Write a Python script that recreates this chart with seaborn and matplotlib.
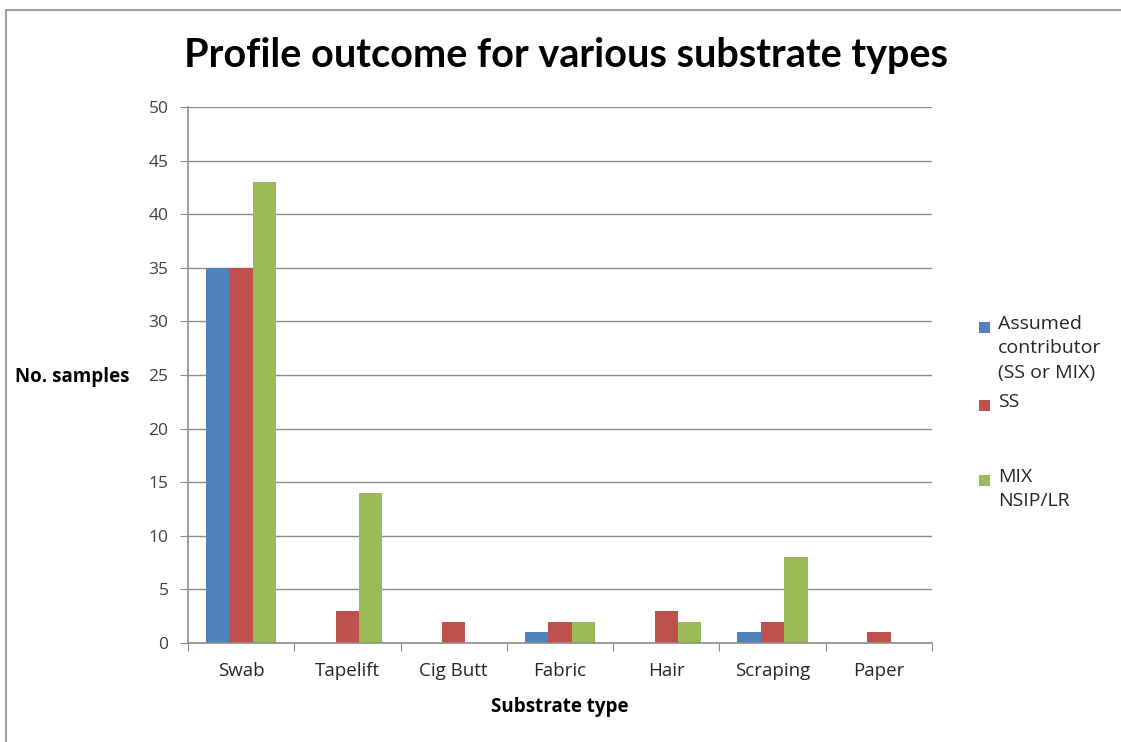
import pandas as pd
import matplotlib
matplotlib.use("Agg")
import matplotlib.pyplot as plt
from matplotlib.patches import Rectangle
from matplotlib.lines import Line2D
import seaborn as sns

categories = ["Swab", "Tapelift", "Cig Butt", "Fabric", "Hair", "Scraping", "Paper"]
series = ["Assumed\ncontributor\n(SS or MIX)", "SS", "MIX\nNSIP/LR"]
assumed = [35, 0, 0, 1, 0, 1, 0]
ss = [35, 3, 2, 2, 3, 2, 1]
mix = [43, 14, 0, 2, 2, 8, 0]
colors = ["#4F81BD", "#C0504D", "#9BBB59"]
yticks = [0, 5, 10, 15, 20, 25, 30, 35, 40, 45, 50]

rows = []
for name, vals in zip(series, [assumed, ss, mix]):
    for c, v in zip(categories, vals):
        rows.append({"Substrate type": c, "series": name, "count": v})
df = pd.DataFrame(rows)

sns.set_style("white")
plt.rcParams["font.family"] = ["Open Sans", "DejaVu Sans"]

fig = plt.figure(figsize=(11.21, 7.42), dpi=100)
ax = fig.add_axes([0.1677, 0.1334, 0.6637, 0.7224])

sns.barplot(data=df, x="Substrate type", y="count", hue="series",
            hue_order=series, order=categories, palette=colors,
            width=0.66, gap=0, saturation=1, linewidth=0, legend=False, ax=ax)

ax.set_ylim(0, 50)
ax.set_xlim(-0.5, len(categories) - 0.5)
ax.set_yticks(yticks)
ax.set_yticklabels([str(t) for t in yticks], fontsize=12.5, color="#404040")
ax.set_axisbelow(True)
ax.yaxis.grid(True, color="#8c8c8c", linewidth=1)
ax.xaxis.grid(False)

for s in ["top", "right"]:
    ax.spines[s].set_visible(False)
for s in ["left", "bottom"]:
    ax.spines[s].set_color("#8c8c8c")
    ax.spines[s].set_linewidth(1.2)

# category ticks sit between groups
ax.set_xticks([i - 0.5 for i in range(len(categories) + 1)], minor=False)
ax.set_xticklabels([])
ax.set_xticks(range(len(categories)), minor=True)
ax.set_xticklabels(categories, minor=True, fontsize=13.5, color="#262626")
ax.tick_params(axis="x", which="major", direction="out", length=6, color="#8c8c8c")
ax.tick_params(axis="x", which="minor", length=0, pad=14)
ax.tick_params(axis="y", direction="out", length=6, color="#8c8c8c", pad=8)
ax.tick_params(axis="both", left=True, bottom=True)

ax.set_xlabel("Substrate type", fontsize=13.5, fontweight="bold", labelpad=12,
              color="black")
ax.set_ylabel("")
fig.text(15 / 1121, 1 - 377 / 742, "No. samples", fontsize=13.5, fontweight="bold",
         va="center", ha="left", color="black")

fig.text(566 / 1121, 1 - 56 / 742, "Profile outcome for various substrate types",
         fontsize=28.5, fontweight="bold", ha="center", va="center", color="black",
         family=["Lato", "DejaVu Sans"])

# legend, marker on first line of each label
leg_y = [327, 405, 480]
for name, col, yy in zip(series, colors, leg_y):
    fig.add_artist(Rectangle((979 / 1121, 1 - (yy + 6) / 742), 11 / 1121, 11 / 742,
                             transform=fig.transFigure, facecolor=col, edgecolor="none"))
    fig.text(998 / 1121, 1 - (yy - 12) / 742, name, fontsize=14, color="#262626",
             va="top", ha="left", linespacing=1.45)

# chart border remnants
fig.add_artist(Line2D([6 / 1121, 1], [1 - 10 / 742, 1 - 10 / 742],
                      transform=fig.transFigure, color="#a0a0a0", linewidth=1.5))
fig.add_artist(Line2D([6 / 1121, 6 / 1121], [0, 1 - 10 / 742],
                      transform=fig.transFigure, color="#a0a0a0", linewidth=1.5))

fig.savefig("out.png", dpi=100)
